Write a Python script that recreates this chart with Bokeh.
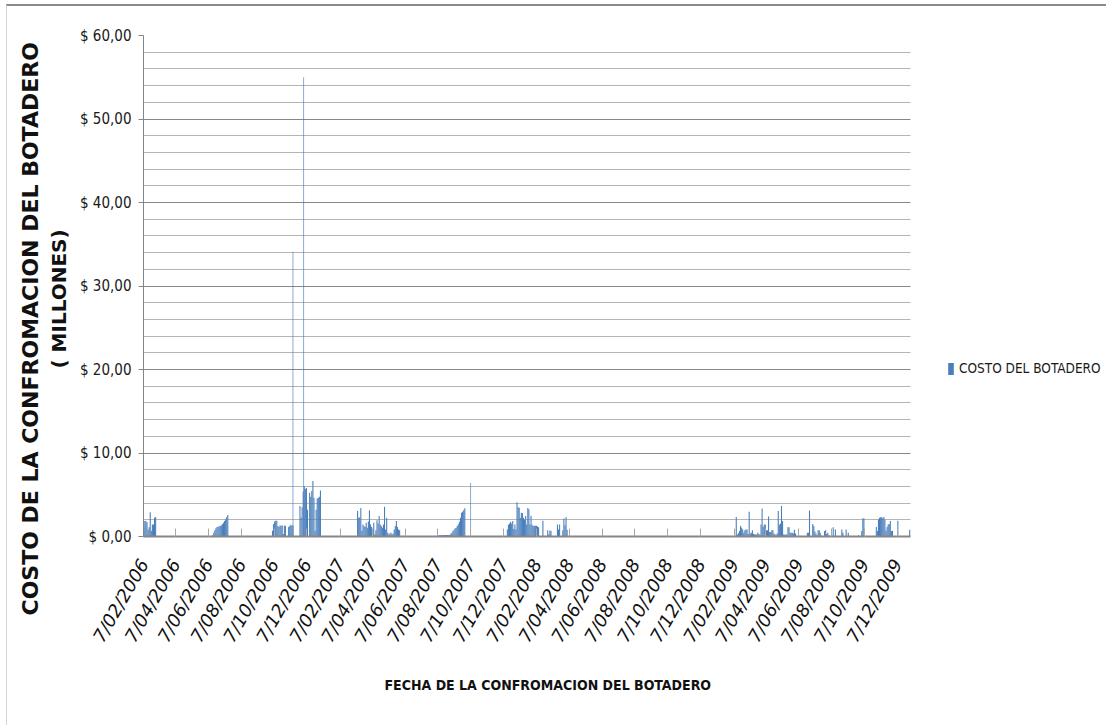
import math
import pandas as pd
from bokeh.plotting import figure
from bokeh.models import (ColumnDataSource, Range1d, FixedTicker, Legend, LegendItem, Title)
from bokeh.embed import file_html
from bokeh.resources import INLINE

# ---- data -------------------------------------------------------------
ORIGIN = pd.Timestamp("2006-02-07")   # first day of the record
LAST_DAY = pd.Timestamp("2009-12-31")

tick_dates = ["2006-02-07", "2006-04-07", "2006-06-07", "2006-08-07", "2006-10-07", "2006-12-07",
              "2007-02-07", "2007-04-07", "2007-06-07", "2007-08-07", "2007-10-07", "2007-12-07",
              "2008-02-07", "2008-04-07", "2008-06-07", "2008-08-07", "2008-10-07", "2008-12-07",
              "2009-02-07", "2009-04-07", "2009-06-07", "2009-08-07", "2009-10-07", "2009-12-07"]
tick_labels = ["7/02/2006", "7/04/2006", "7/06/2006", "7/08/2006", "7/10/2006", "7/12/2006",
               "7/02/2007", "7/04/2007", "7/06/2007", "7/08/2007", "7/10/2007", "7/12/2007",
               "7/02/2008", "7/04/2008", "7/06/2008", "7/08/2008", "7/10/2008", "7/12/2008",
               "7/02/2009", "7/04/2009", "7/06/2009", "7/08/2009", "7/10/2009", "7/12/2009"]

y_ticks = [0, 10, 20, 30, 40, 50, 60]
y_minor = [2, 4, 6, 8, 12, 14, 16, 18, 22, 24, 26, 28, 32, 34, 36, 38,
           42, 44, 46, 48, 52, 54, 56, 58]
y_tick_labels = ["$ 0,00", "$ 10,00", "$ 20,00", "$ 30,00", "$ 40,00", "$ 50,00", "$ 60,00"]

# daily cost (millions) in working periods; one value every second day from the start date
costo_feb_2006 = [1.1, 1.85, 1.85, 1.7, 0.8, 1.1, 2.9, 0.7, 1.45, 1.45, 2.25, 2.35]
costo_jun_2006 = [0.14, 0.46, 0.74, 0.98, 1.14, 1.18, 1.22, 1.26, 1.34, 1.46, 1.66, 1.86,
                  2.06, 2.33, 2.57]
costo_oct_2006 = [0.7, 1.5, 1.8, 1.9, 1.9, 1.25, 1.15, 1.35, 1.25, 1.35, 0.3, 1.3, 1.3, 0, 0,
                  1.15, 1.25, 1.4, 1.3, 1.35]
costo_nov_2006 = [3.65, 2.25, 3.5, 5.4, 6.0, 5.7, 5.8, 3.2, 0, 5.25, 4.75, 5.45, 6.65, 4.65,
                  0.7, 3.2, 4.55, 4.65, 4.75, 5.5]
costo_mar_2007 = [3.05, 2.25, 2.3, 3.4, 0.7, 1.45, 1.25, 1.15, 1.65, 1.05, 1.8, 3.15, 1.45,
                  1.15, 0.7, 1.65, 0.25, 0.75, 1.95, 1.55, 2.45, 1.45, 1.25, 1.05, 1.45, 3.55,
                  0.85, 2.25, 0.45, 0.25, 0.35, 0.45, 0.25, 0.35, 0.85, 1.25, 1.85, 1.15, 0.85,
                  0.75]
costo_ago_2007 = [0.18, 0.18, 0.18, 0.18, 0.18, 0.18, 0.18, 0.18, 0.18, 0.18, 0.18, 0.34, 0.46,
                  0.66, 0.8, 0.98, 1.06, 1.26, 1.46, 1.78, 2.25, 2.85, 2.97, 3.13, 3.37]
costo_dic_2007 = [0.85, 1.4, 1.55, 1.75, 1.55, 1.85, 0.9, 1.45, 0.85, 4.1, 3.5, 3.45, 2.25, 2.85,
                  2.8, 2.25, 2.05, 2.45, 1.45, 3.4, 3.25, 1.45, 2.5, 1.4, 1.25, 1.3, 1.3, 1.3,
                  1.2, 1.1, 0, 0, 0, 1.9]
costo_feb_2008 = [0.75, 0.25, 0.7, 0.7]
costo_mar_2008 = [1.45, 0.85, 1.45, 0, 0, 0.75, 2.15, 1.35, 2.3, 0.8]
costo_feb_2009 = [2.35, 0.25, 0.4, 0.65, 1.25, 1.05, 0.85, 0.45, 0.75, 0.85, 0.85, 0.3, 2.95,
                  0.35, 0.45, 0.75, 0.3, 0.25, 0.25, 0.25, 0.45, 0.3, 0.2, 1.45, 3.35, 1.15,
                  1.45, 1.4, 0.75, 0.75, 2.4, 0.55, 0.55, 0.75, 0.75, 0.35, 0.25, 0.2, 0.35,
                  3.05, 1.4, 1.55, 3.65, 1.85, 0.25, 0.2, 0.25, 0.25, 1.1, 1.1, 0.45, 0.45,
                  0.45, 0.35, 0.8, 0.35]
costo_jun_2009 = [0.45, 0.45, 3.1, 0, 0, 1.5, 1.25, 0.6, 0.35, 0.15, 0.75, 0.75, 0.45, 0.1, 0,
                  0, 0.65, 0.75, 0.3, 0.45, 0.15, 0, 0, 0, 1.1, 0, 0.85, 0, 0, 0, 0, 0, 0.85,
                  0.45, 0, 0, 0.85, 0, 0.45]
costo_sep_2009 = [0.15, 0, 0, 0.65, 2.15, 2.2]
costo_oct_2009 = [1.15, 0.65, 2.05, 2.25, 2.3, 2.3, 2.2, 2.35, 2.0, 0.7, 1.15, 1.45, 1.5, 1.85,
                  0.65, 0.7, 0, 0, 0, 0, 1.9]
costo_dic_2009 = [0.8]

period_starts = ["2006-02-07", "2006-06-15", "2006-10-04", "2006-11-24", "2007-03-11",
                 "2007-08-09", "2007-12-14", "2008-02-27", "2008-03-16", "2009-02-11",
                 "2009-06-23", "2009-09-26", "2009-10-29", "2009-12-30"]
period_values = [costo_feb_2006, costo_jun_2006, costo_oct_2006, costo_nov_2006, costo_mar_2007,
                 costo_ago_2007, costo_dic_2007, costo_feb_2008, costo_mar_2008, costo_feb_2009,
                 costo_jun_2009, costo_sep_2009, costo_oct_2009, costo_dic_2009]

# single-day peaks
peak_dates = ["2006-11-11", "2006-12-01", "2007-10-07"]
peak_values = [34.1, 55.0, 6.4]


def day_number(d):
    return (pd.Timestamp(d) - ORIGIN).days


xs, tops, widths = [], [], []
for start, vals in zip(period_starts, period_values):
    d0 = day_number(start)
    for i, v in enumerate(vals):
        if v > 0:
            xs.append(d0 + 2 * i)
            tops.append(v)
            widths.append(2.0)
for d, v in zip(peak_dates, peak_values):
    xs.append(day_number(d))
    tops.append(v)
    widths.append(1.2)

source = ColumnDataSource(dict(x=xs, top=tops, w=widths))

# ---- figure -----------------------------------------------------------
# the canvas sits 7 px right / 6 px down on the page, behind the chart-area border
OX, OY = 7, 6
W, H = 1107 - OX, 727 - OY
FL, FT, FB = 143 - OX, 35 - OY, 536 - OY      # frame edges on the canvas
PLOT_W = 767                                  # width of the dated part of the frame

x0, x1 = -0.5, day_number(LAST_DAY) + 0.5
# the frame runs on to the canvas edge so the legend can sit inside it
x_end = x0 + (x1 - x0) * (W - FL) / PLOT_W

p = figure(width=W, height=H, output_backend="svg", toolbar_location=None,
           x_range=Range1d(x0, x_end), y_range=Range1d(0, 60),
           min_border_left=FL, min_border_right=0, min_border_top=FT,
           min_border_bottom=H - FB)
p.styles = {"margin-left": "6px", "margin-top": "4px",
            "border-top": "2px solid #8a8a8a", "border-left": "1px solid #d4d4d4"}
p.outline_line_color = None
p.background_fill_color = "white"
p.border_fill_color = "white"

BLUE = "#4A7EBB"
bars = p.vbar(x="x", top="top", width="w", bottom=0, source=source,
              fill_color=BLUE, line_color=None)

narrow = "DejaVu Sans Condensed"

# y axis
yt = FixedTicker(ticks=y_ticks, minor_ticks=y_minor)
p.yaxis.ticker = yt
p.yaxis.major_label_overrides = {t: s for t, s in zip(y_ticks, y_tick_labels)}
p.yaxis.axis_line_color = "#868686"
p.yaxis.major_tick_line_color = "#868686"
p.yaxis.major_tick_out = 5
p.yaxis.major_tick_in = 0
p.yaxis.minor_tick_out = 0
p.yaxis.minor_tick_in = 0
p.yaxis.major_label_standoff = 7
p.yaxis.major_label_text_font = narrow
p.yaxis.major_label_text_font_size = "15px"
p.yaxis.major_label_text_color = "#1a1a1a"

grid = p.ygrid[0]
if "cross_bounds" in grid.properties():
    grid.ticker = yt
    grid.cross_bounds = (x0, x1)
    grid.grid_line_color = "#868686"
    grid.minor_grid_line_color = "#b5b5b5"
else:
    grid.visible = False
    p.segment(x0=[x0] * len(y_minor), x1=[x1] * len(y_minor), y0=y_minor, y1=y_minor,
              line_color="#b5b5b5", line_width=1, level="underlay")
    p.segment(x0=[x0] * len(y_ticks), x1=[x1] * len(y_ticks), y0=y_ticks, y1=y_ticks,
              line_color="#868686", line_width=1, level="underlay")

# x axis
x_tick_pos = [day_number(d) for d in tick_dates]
p.xaxis.ticker = FixedTicker(ticks=x_tick_pos)
p.xaxis.bounds = (x0, x1)
p.xaxis.major_label_overrides = {t: s for t, s in zip(x_tick_pos, tick_labels)}
p.xaxis.major_label_orientation = math.pi / 3
p.xaxis.axis_line_color = "#868686"
p.xaxis.axis_line_width = 2
p.xaxis.major_tick_in = 8
p.xaxis.major_tick_out = 0
p.xaxis.major_tick_line_color = "#a8a8a8"
p.xaxis.minor_tick_in = 0
p.xaxis.minor_tick_out = 0
p.xaxis.major_label_standoff = 24
p.xaxis.major_label_text_font = "DejaVu Sans"
p.xaxis.major_label_text_font_style = "italic"
p.xaxis.major_label_text_font_size = "18px"
p.xaxis.major_label_text_color = "#111111"
p.xgrid.visible = False

# axis titles (side panels, stacked outward from the axes)
p.add_layout(Title(text="( MILLONES)", align="left", offset=536 - 368,
                   vertical_align="top", standoff=9,
                   text_font="DejaVu Sans", text_font_style="bold",
                   text_font_size="20px", text_color="#111111"), "left")
p.add_layout(Title(text="COSTO DE LA CONFROMACION DEL  BOTADERO", align="left",
                   offset=536 - 615, vertical_align="bottom", standoff=0,
                   text_font="DejaVu Sans", text_font_style="bold",
                   text_font_size="22px", text_color="#111111"), "left")
p.add_layout(Title(text="FECHA DE LA CONFROMACION DEL BOTADERO", align="left",
                   offset=384 - 143, vertical_align="middle", standoff=45,
                   text_font=narrow, text_font_style="bold",
                   text_font_size="14px", text_color="#111111"), "below")

# legend, right of the dated area
legend = Legend(items=[LegendItem(label="COSTO DEL BOTADERO", renderers=[bars])],
                location=(947 - 143, 536 - 376), glyph_width=7, glyph_height=15,
                label_height=15, label_standoff=5, padding=0, margin=0, spacing=0,
                border_line_color=None, background_fill_alpha=0,
                label_text_font=narrow, label_text_font_size="13.5px",
                label_text_color="#1a1a1a")
p.add_layout(legend, "center")

open("out.html", "w").write(file_html(p, INLINE))
